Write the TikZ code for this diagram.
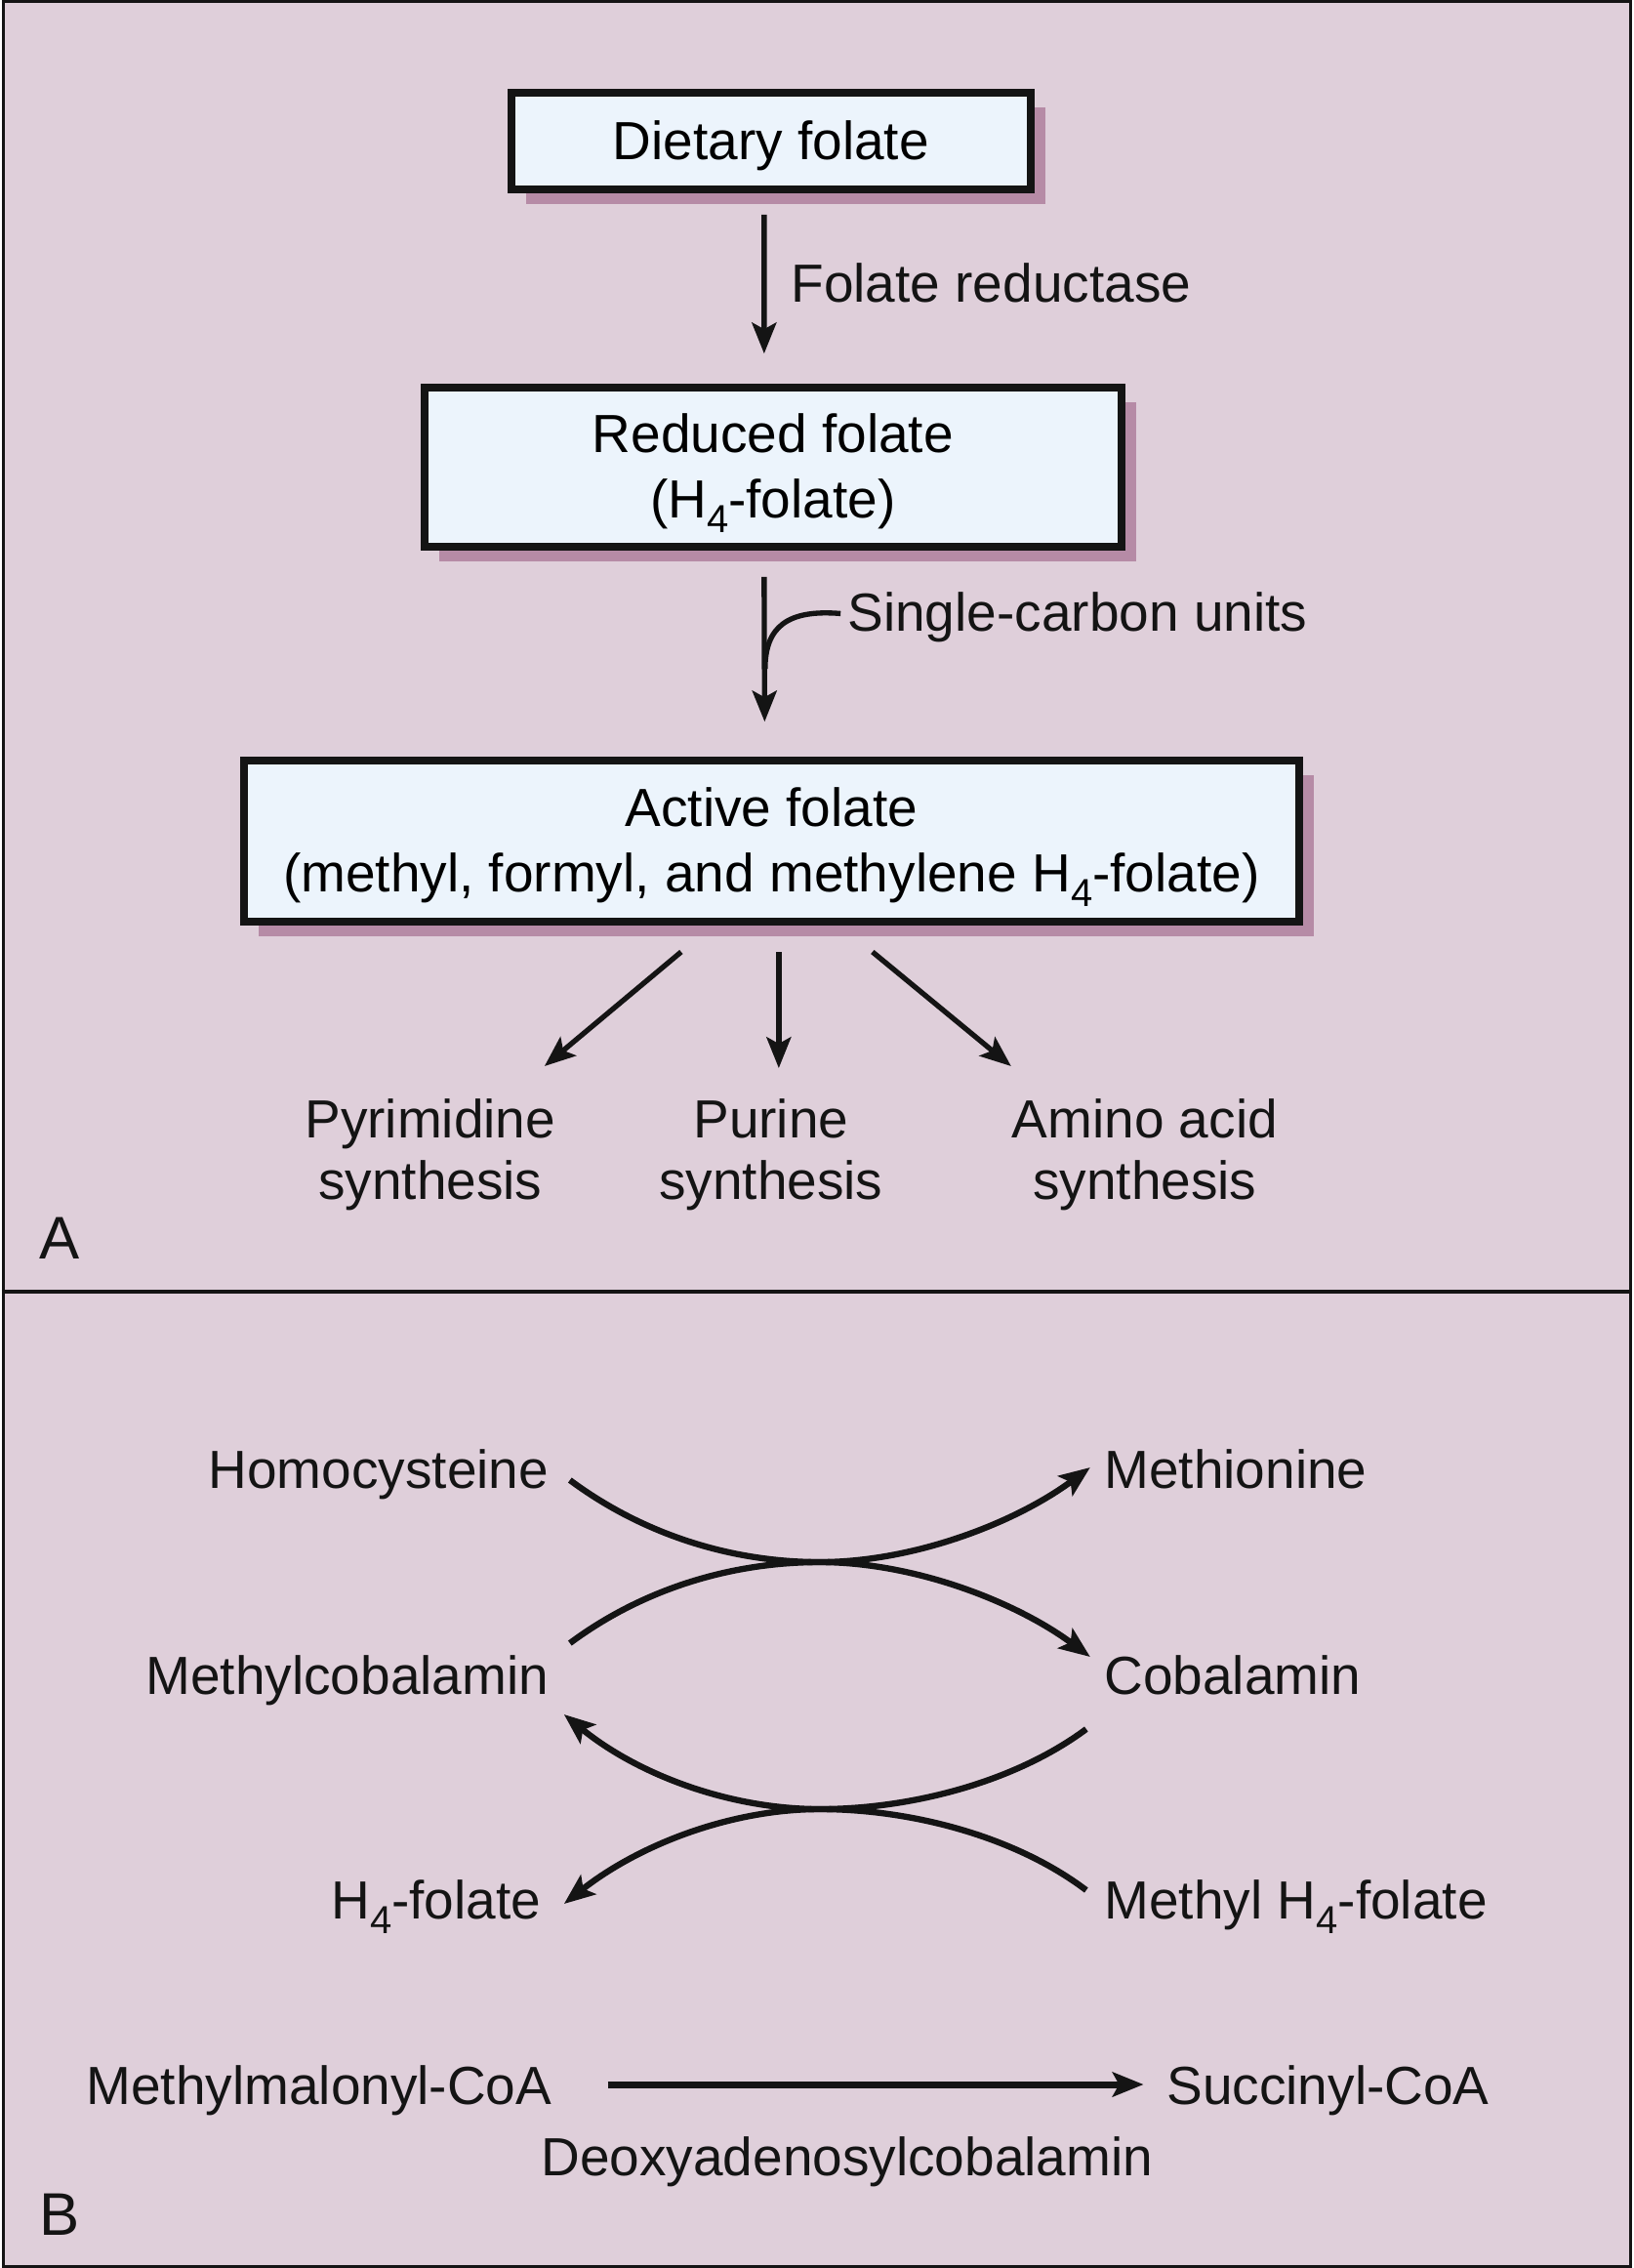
\documentclass[tikz,border=0pt]{standalone}
\usepackage{fontspec}
\setmainfont{Liberation Sans}
\usetikzlibrary{arrows.meta,shadows}
\definecolor{bgc}{RGB}{223,207,218}
\definecolor{boxc}{RGB}{236,244,252}
\definecolor{shc}{RGB}{182,139,166}
\definecolor{ink}{RGB}{20,20,20}
\newcommand\Hfour{H\raisebox{-0.28em}{\fontsize{12}{12}\selectfont 4}}
\newcommand\toppad{\rule{0pt}{15.6pt}}
\begin{document}
\begin{tikzpicture}[x=0.3pt,y=-0.3pt,
  fbox/.style={draw=ink, line width=2.3pt, fill=boxc, inner sep=0pt, align=center,
    font=\fontsize{16.5}{20.2}\selectfont,
    drop shadow={shadow xshift=4.4pt, shadow yshift=-4.4pt, fill=shc, opacity=1}},
  lbl/.style={inner sep=0pt, font=\fontsize{16.5}{19}\selectfont, text=ink},
  arr/.style={draw=ink, line width=1.6pt, -{Stealth[length=9.5pt,width=7.5pt,inset=2pt]}},
  arc/.style={draw=ink, line width=1.9pt, -{Stealth[length=9.5pt,width=7.5pt,inset=2pt]}},
  plain/.style={draw=ink, line width=1.8pt}]
% background and frame
\fill[bgc] (0,0) rectangle (1670,2323);
\draw[ink, line width=0.9pt] (1.5,1.5) rectangle (1668.5,2321.5);
\draw[ink, line width=1.1pt] (0,1323) -- (1670,1323);

% Part A
\node[fbox, minimum width=159.6pt, minimum height=29.7pt] (diet) at (788,144.5) {\rule{0pt}{14.6pt}Dietary folate};
\node[fbox, minimum width=214.2pt, minimum height=48.9pt] (red) at (790,478.5) {\toppad Reduced folate\\(\Hfour-folate)};
\node[fbox, minimum width=324.3pt, minimum height=49.5pt] (act) at (788.5,861.5) {\toppad Active folate\\(methyl, formyl, and methylene \Hfour-folate)};

\draw[arr] ([xshift=-2.1pt,yshift=-6.6pt]diet.south) -- ([xshift=-2.7pt,yshift=9.3pt]red.north);
\node[lbl, anchor=base west] (fr) at (808,310) {Folate reductase};

\draw[arr] ([xshift=-2.7pt,yshift=-8.1pt]red.south) -- ([xshift=-2.1pt,yshift=10.8pt]act.north);
\node[lbl, anchor=base west] (sc) at (866,646) {Single-carbon units};
\coordinate (join) at (782,685);
\draw[plain, line width=1.6pt] ([xshift=-2pt,yshift=1pt]sc.west) .. controls (805,624) and (782,642) .. (join);

\coordinate (f1) at (696,975);
\coordinate (f2) at (796,975);
\coordinate (f3) at (892,975);
\node[lbl, align=center] (pyr) at (439,1183) {Pyrimidine\\synthesis};
\node[lbl, align=center] (pur) at (788,1183) {Purine\\synthesis};
\node[lbl, align=center] (ami) at (1171,1183) {Amino acid\\synthesis};
\coordinate (t1) at (556,1092);
\coordinate (t2) at (796,1094);
\coordinate (t3) at (1034,1092);
\draw[arr] (f1) -- (t1);
\draw[arr] (f2) -- (t2);
\draw[arr] (f3) -- (t3);
\node[inner sep=0pt, anchor=base west, font=\fontsize{18.5}{20}\selectfont, text=ink] (lA) at (38,1289) {A};

% Part B
\node[lbl, anchor=base east] (homo) at (561,1524) {Homocysteine};
\node[lbl, anchor=base west] (meth) at (1129,1524) {Methionine};
\node[lbl, anchor=base east] (mcob) at (561,1735) {Methylcobalamin};
\node[lbl, anchor=base west] (cob) at (1129,1735) {Cobalamin};
\node[lbl, anchor=base east] (h4f) at (553,1965) {\Hfour-folate};
\node[lbl, anchor=base west] (mh4f) at (1129,1965) {Methyl \Hfour-folate};

\coordinate (a1s) at (582,1516);
\coordinate (a1e) at (1115,1503);
\coordinate (a2s) at (582,1683);
\coordinate (a2e) at (1115,1697);
\coordinate (a3s) at (1111,1771);
\coordinate (a3e) at (576,1756);
\coordinate (a4s) at (1111,1936);
\coordinate (a4e) at (576,1950);
\draw[arc] (a1s) .. controls (656,1571) and (746,1600) .. (838,1600) .. controls (934,1600) and (1038,1560) .. (a1e);
\draw[arc] (a2s) .. controls (656,1628) and (746,1600) .. (838,1600) .. controls (934,1600) and (1038,1640) .. (a2e);
\draw[arc] (a3s) .. controls (1037,1826) and (930,1853) .. (838,1853) .. controls (746,1853) and (652,1818) .. (a3e);
\draw[arc] (a4s) .. controls (1037,1880) and (930,1853) .. (838,1853) .. controls (746,1853) and (652,1890) .. (a4e);

\node[lbl, anchor=base west] (mmc) at (86,2155) {Methylmalonyl-CoA};
\node[lbl, anchor=base west] (suc) at (1193,2155) {Succinyl-CoA};
\node[lbl, anchor=base] (deoxy) at (866,2228) {Deoxyadenosylcobalamin};
\draw[arc, line width=2.1pt] ([xshift=17pt,yshift=6pt]mmc.base east) -- ([xshift=-7pt,yshift=6pt]suc.base west);
\node[inner sep=0pt, anchor=base west, font=\fontsize{18.5}{20}\selectfont, text=ink] (lB) at (38,2289) {B};
\end{tikzpicture}
\end{document}
